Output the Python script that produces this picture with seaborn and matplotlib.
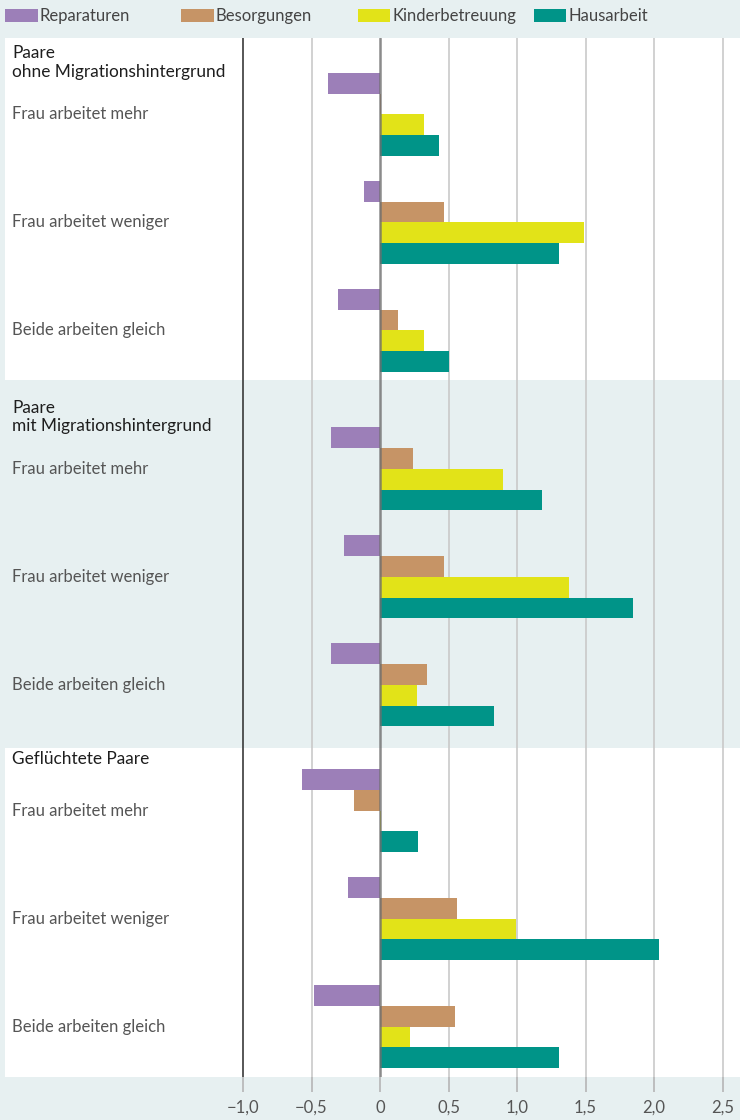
import pandas as pd
import seaborn as sns
import matplotlib.pyplot as plt

sns.set_style('white')
plt.rcParams['font.family'] = ['Lato', 'DejaVu Sans']

groups = ['Paare\nohne Migrationshintergrund', 'Paare\nmit Migrationshintergrund', 'Geflüchtete Paare']
situations = ['Frau arbeitet mehr', 'Frau arbeitet weniger', 'Beide arbeiten gleich']
tasks = ['Reparaturen', 'Besorgungen', 'Kinderbetreuung', 'Hausarbeit']
colors = ['#9c7fb8', '#c69466', '#e2e318', '#009488']

# rows = situations, cols = tasks
ohne = [[-0.38, 0.01, 0.32, 0.43],
        [-0.12, 0.47, 1.49, 1.31],
        [-0.31, 0.13, 0.32, 0.50]]
mit = [[-0.36, 0.24, 0.90, 1.18],
       [-0.26, 0.47, 1.38, 1.85],
       [-0.36, 0.34, 0.27, 0.83]]
gefl = [[-0.57, -0.19, 0.01, 0.28],
        [-0.23, 0.56, 0.99, 2.04],
        [-0.48, 0.55, 0.22, 1.31]]

xticks = [-1.0, -0.5, 0, 0.5, 1.0, 1.5, 2.0, 2.5]
xticklabels = ['\u22121,0', '\u22120,5', '0', '0,5', '1,0', '1,5', '2,0', '2,5']

# layout: cluster centres (1 unit = cluster spacing)
group_offsets = [1.06, 4.34, 7.505]

rows = []
for g, vals in enumerate([ohne, mit, gefl]):
    for s, row in enumerate(vals):
        for t, v in enumerate(row):
            rows.append({'pos': group_offsets[g] + s, 'task': tasks[t], 'value': v})
df = pd.DataFrame(rows)

bg = '#e7f0f1'
fig = plt.figure(figsize=(7.4, 11.2), dpi=100, facecolor=bg)
ax = fig.add_axes([5 / 740, 43 / 1120, 735 / 740, 1039 / 1120])
ax.set_facecolor('white')

# band behind second group
ax.axhspan(group_offsets[1] - 0.82, group_offsets[1] + 2.59, color=bg, zorder=0, lw=0)

for v in [-0.5, 0.5, 1.0, 1.5, 2.0, 2.5]:
    ax.axvline(v, color='#c9c9c9', lw=1.2, zorder=0.5)
ax.axvline(-1.0, color='#3a3a3a', lw=1.2, zorder=3)
ax.axvline(0, color='#6e6e6e', lw=1.8, alpha=0.8, zorder=3)

sns.barplot(data=df, x='value', y='pos', hue='task', hue_order=tasks, palette=colors,
            orient='y', native_scale=True, width=0.77, errorbar=None, saturation=1,
            linewidth=0, edgecolor='none', ax=ax, zorder=2)

handles, labels = ax.get_legend_handles_labels()
if ax.get_legend() is not None:
    ax.get_legend().remove()

ax.set_xlim((5 - 380) / 137, (740 - 380) / 137)
ax.set_ylim(1077 / 108, 38 / 108)
ax.set_xlabel('')
ax.set_ylabel('')
ax.set_yticks([])
ax.set_xticks(xticks)
ax.set_xticklabels(xticklabels)
ax.tick_params(axis='x', bottom=True, length=10.5, width=1.2, color='#b5b5b5',
               labelsize=12, labelcolor='#555555', pad=6)
for i, tk in enumerate(ax.xaxis.get_major_ticks()):
    if xticks[i] == -1.0:
        tk.tick1line.set_color('#3a3a3a')
    elif xticks[i] == 0:
        tk.tick1line.set_color('#7a7a7a')
for sp in ax.spines.values():
    sp.set_visible(False)

tr = ax.get_yaxis_transform()
for g, name in enumerate(groups):
    ax.text(0.0095, group_offsets[g] - 0.48, name, transform=tr, ha='left', va='center',
            fontsize=12.4, color='#1e1e1e', linespacing=1.2)
    for s, lab in enumerate(situations):
        ax.text(0.0095, group_offsets[g] + s, lab, transform=tr, ha='left', va='center',
                fontsize=12, color='#555555')

for i, (h, l) in enumerate(zip(handles, labels)):
    h.set_edgecolor('none')
    fig.legend([h], [l], loc='center left', bbox_to_anchor=((5 + i * 176.3) / 740, 1 - 16 / 1120),
               frameon=False, fontsize=12, handlelength=1.95, handleheight=0.85,
               handletextpad=0.12, borderpad=0, borderaxespad=0, labelcolor='#444444')

plt.savefig('out.png', dpi=100, facecolor=fig.get_facecolor())
